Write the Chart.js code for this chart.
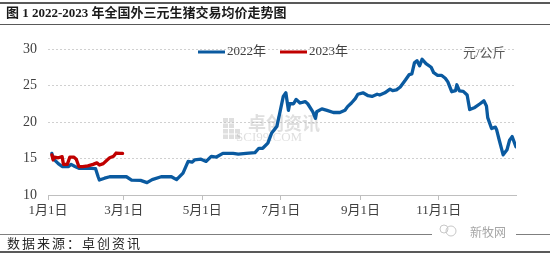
<!DOCTYPE html>
<html><head><meta charset="utf-8">
<script src="https://cdn.jsdelivr.net/npm/chart.js@4.4.0/dist/chart.umd.min.js"></script>
<style>html,body{margin:0;padding:0;background:#fff;}#wrap{position:relative;width:550px;height:256px;}</style>
</head><body><div id="wrap"><canvas id="c" width="550" height="256"></canvas></div>
<script>
const titleText = "图 1 2022-2023 年全国外三元生猪交易均价走势图";
const sourceText = "数据来源：卓创资讯";
const unitText = "元/公斤";
const seriesNames = ["2022年", "2023年"];
const tickDays = [0, 59, 120, 181, 243, 304];
const tickLabels = ["1月1日", "3月1日", "5月1日", "7月1日", "9月1日", "11月1日"];
const days2022 = [3,4,8,11,16,18,21,24,34,37,39,40,44,48,61,65,72,77,81,88,96,100,105,109,112,114,119,123,127,131,136,144,148,154,161,164,167,171,174,178,180,183,185,187,188,191,193,196,200,202,206,208,209,213,217,222,227,231,233,236,239,241,245,249,252,256,258,262,266,268,271,274,278,281,283,285,287,289,291,294,298,300,303,306,309,311,314,317,318,320,323,326,328,332,336,339,341,342,345,348,349,351,354,357,359,361,364];
const values2022 = [15.7,15.0,14.3,13.9,13.9,14.2,13.9,13.65,13.65,13.6,12.5,12.05,12.3,12.5,12.5,12.05,12.0,11.7,12.1,12.5,12.5,12.1,13.0,14.6,14.5,14.8,14.9,14.6,15.3,15.2,15.7,15.7,15.6,15.7,15.8,16.4,16.4,17.1,18.5,19.4,21.0,23.5,24.0,21.6,22.5,22.5,23.1,22.6,22.8,22.5,21.4,20.5,21.4,21.8,21.6,21.3,21.3,21.6,22.1,22.6,23.2,23.8,24.0,23.6,23.5,23.8,23.7,24.0,24.5,24.3,24.4,24.8,25.75,26.5,26.6,28.1,28.4,27.7,28.6,28.0,27.5,26.75,26.4,26.4,26.0,25.5,24.15,24.3,25.1,24.25,24.2,23.7,21.7,22.0,22.5,22.9,22.2,20.6,19.1,19.3,18.9,17.5,15.5,16.2,17.5,18.0,16.6];
const days2023 = [3,4,5,8,11,12,15,17,20,22,24,27,31,35,38,40,43,46,48,51,53,56,58];
const values2023 = [15.5,14.8,15.2,15.1,15.25,14.2,14.2,15.2,15.2,14.9,13.9,13.9,14.0,14.2,14.4,14.1,14.3,14.8,15.1,15.3,15.75,15.7,15.7];

const colors = ["#0a5aa0", "#c00000"];
const mixFont = "'Liberation Serif','Noto Sans CJK SC'";

const decor = {
  id: 'decor',
  beforeDraw(chart) {
    const ctx = chart.ctx;
    ctx.save();
    ctx.fillStyle = '#fff';
    ctx.fillRect(0, 0, 550, 256);
    ctx.fillStyle = '#595959';
    ctx.fillRect(0, 2, 550, 2);
    ctx.fillRect(0, 24, 550, 1);
    ctx.fillStyle = '#1a1a1a';
    ctx.font = "bold 13px " + mixFont;
    ctx.textBaseline = 'middle';
    ctx.fillText(titleText, 6, 13.5);
    ctx.fillStyle = '#7f7f7f';
    ctx.fillRect(0, 234, 550, 1);
    ctx.fillStyle = '#595959';
    ctx.fillRect(0, 251, 550, 2);
    ctx.fillStyle = '#262626';
    ctx.font = "13px 'Noto Sans CJK SC'";
    ctx.letterSpacing = '2px';
    ctx.fillText(sourceText, 7, 243);
    ctx.letterSpacing = '0px';
    ctx.fillStyle = '#fff';
    ctx.fillRect(432, 226, 84, 14);
    ctx.strokeStyle = '#c8c8c8';
    ctx.lineWidth = 1;
    ctx.beginPath(); ctx.arc(451, 231, 5, 0, Math.PI * 2); ctx.stroke();
    ctx.beginPath(); ctx.arc(444, 229, 4, 0, Math.PI * 2); ctx.stroke();
    ctx.fillStyle = '#a6a6a6';
    ctx.font = "12px 'Noto Sans CJK SC'";
    ctx.fillText('新牧网', 470, 232);
    ctx.restore();
  },
  beforeDatasetsDraw(chart) {
    const ctx = chart.ctx;
    ctx.save();
    ctx.fillStyle = 'rgba(175,175,175,0.4)';
    for (let r = 0; r < 4; r++) for (let c = 0; c < 3; c++) {
      if (c === 2 && r < 2) continue;
      ctx.fillRect(223 + c * 6, 118 + r * 5.5, 5, 4.5);
    }
    ctx.font = "bold 18px 'Noto Sans CJK SC'";
    ctx.textBaseline = 'middle';
    ctx.fillText('卓创资讯', 248, 123);
    ctx.font = "13px 'Liberation Serif'";
    ctx.fillText('SCI99.COM', 236, 138);
    ctx.restore();
  },
  afterDraw(chart) {
    const ctx = chart.ctx;
    ctx.save();
    ctx.textBaseline = 'middle';
    ctx.font = "13px " + mixFont;
    const lx = [198, 280];
    chart.data.datasets.forEach((ds, i) => {
      ctx.strokeStyle = ds.borderColor;
      ctx.lineWidth = 3;
      ctx.beginPath(); ctx.moveTo(lx[i], 52); ctx.lineTo(lx[i] + 27, 52); ctx.stroke();
      ctx.fillStyle = '#404040';
      ctx.fillText(ds.label, lx[i] + 29, 52);
    });
    ctx.fillStyle = '#595959';
    ctx.fillText(unitText, 463, 54);
    ctx.restore();
  }
};

new Chart(document.getElementById('c'), {
  type: 'line',
  data: {
    datasets: [
      { label: seriesNames[0], data: days2022.map((d, i) => ({ x: d, y: values2022[i] })), borderColor: colors[0], backgroundColor: colors[0], borderWidth: 3.3, borderJoinStyle: 'round', borderCapStyle: 'round', pointRadius: 0, tension: 0, order: 1 },
      { label: seriesNames[1], data: days2023.map((d, i) => ({ x: d, y: values2023[i] })), borderColor: colors[1], backgroundColor: colors[1], borderWidth: 3.3, borderJoinStyle: 'round', borderCapStyle: 'round', pointRadius: 0, tension: 0, order: 0 }
    ]
  },
  options: {
    responsive: false,
    animation: false,
    devicePixelRatio: 1,
    layout: { padding: { top: 49, right: 34, bottom: 0, left: 0 } },
    plugins: { legend: { display: false }, title: { display: false }, tooltip: { enabled: false } },
    scales: {
      x: {
        type: 'linear', min: 0, max: 364,
        afterBuildTicks(s) { s.ticks = tickDays.map(v => ({ value: v })); },
        afterFit(s) { s.height = 61; },
        ticks: { autoSkip: false, maxRotation: 0, padding: 3, color: '#404040', font: { family: mixFont, size: 13 },
          callback: (v) => tickLabels[tickDays.indexOf(v)] },
        grid: { drawOnChartArea: false, drawTicks: true, tickLength: 5, color: '#bfbfbf' },
        border: { display: true, color: '#bfbfbf', width: 1 }
      },
      y: {
        min: 10, max: 30,
        afterFit(s) { s.width = 48; },
        ticks: { stepSize: 5, padding: 11, color: '#404040', font: { family: mixFont, size: 14 } },
        grid: { drawTicks: false, color: (c) => c.tick && c.tick.value === 10 ? 'rgba(0,0,0,0)' : '#d0d0d0' },
        border: { display: false, dash: [2, 2] }
      }
    }
  },
  plugins: [decor]
});
</script>
</body></html>
